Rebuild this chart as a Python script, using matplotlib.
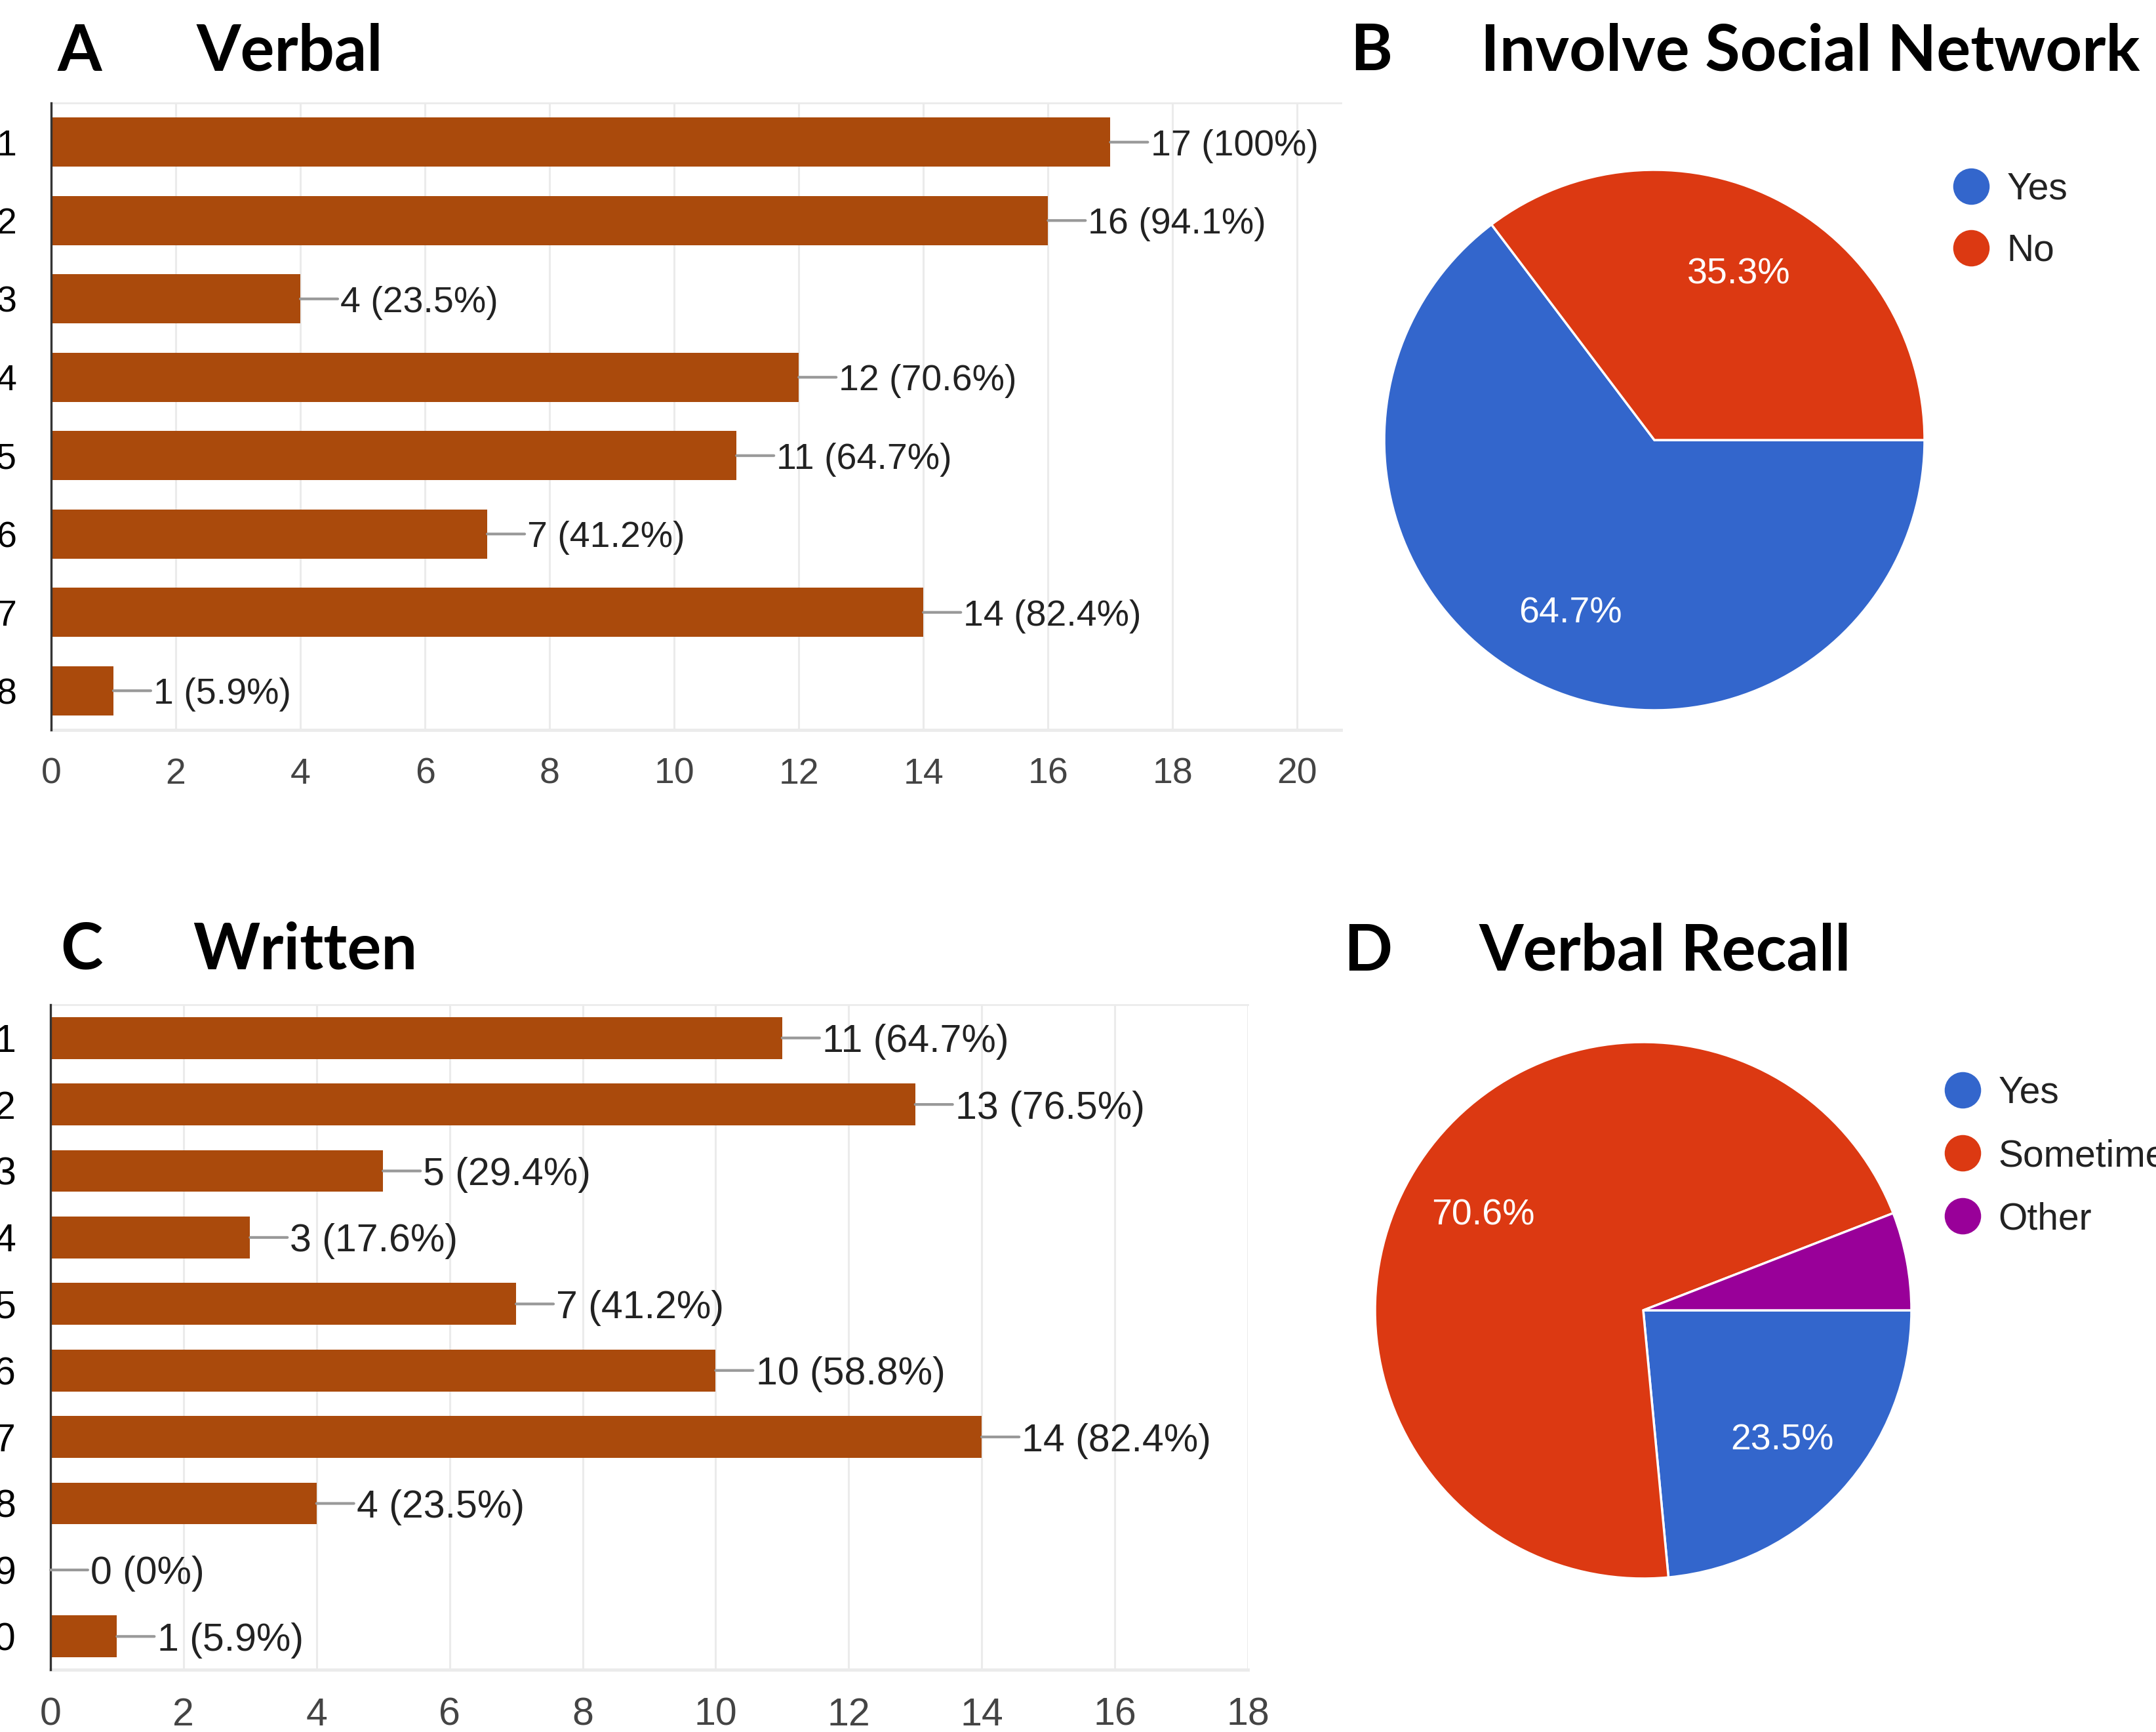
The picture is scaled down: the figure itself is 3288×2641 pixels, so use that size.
import matplotlib
matplotlib.use("Agg")
import matplotlib.pyplot as plt
from matplotlib.lines import Line2D

# ---- data ----
verbal_items = ["1", "2", "3", "4", "5", "6", "7", "8"]
verbal_counts = [17, 16, 4, 12, 11, 7, 14, 1]
verbal_pcts = ["100%", "94.1%", "23.5%", "70.6%", "64.7%", "41.2%", "82.4%", "5.9%"]

written_items = ["1", "2", "3", "4", "5", "6", "7", "8", "9", "10"]
written_counts = [11, 13, 5, 3, 7, 10, 14, 4, 0, 1]
written_pcts = ["64.7%", "76.5%", "29.4%", "17.6%", "41.2%", "58.8%", "82.4%", "23.5%", "0%", "5.9%"]

social_labels = ["Yes", "No"]
social_values = [64.7, 35.3]

recall_labels = ["Yes", "Sometimes", "Other"]
recall_values = [23.5, 70.6, 5.9]

BAR_COLOR = "#AA4A0C"
PIE_COLORS = ["#3366CC", "#DC3912", "#990099"]
W, H = 3288, 2641
SANS = ["Liberation Sans", "DejaVu Sans"]
NARROW = ["Liberation Sans Narrow", "Liberation Sans", "DejaVu Sans"]
TITLE = ["Lato", "DejaVu Sans"]

plt.rcParams["font.family"] = SANS


def px_axes(fig, left, top, right, bottom):
    # place an axes using pixel edges measured from the top-left corner
    return fig.add_axes([left / W, (H - bottom) / H, (right - left) / W, (bottom - top) / H])


def bar_panel(fig, box, items, counts, pcts, xmax, xticks, fs=40):
    ax = px_axes(fig, *box)
    y = list(range(len(items)))
    ax.barh(y, counts, height=0.63, color=BAR_COLOR, zorder=3)
    ax.set_ylim(len(items) - 0.5, -0.5)
    ax.set_xlim(0, xmax)
    ax.set_xticks(xticks)
    ax.set_yticks(y)
    ax.set_yticklabels(items)
    ax.tick_params(axis="y", length=0, pad=38, labelsize=fs, labelcolor="#000000")
    ax.tick_params(axis="x", length=0, pad=30, labelsize=fs, labelcolor="#444444")
    ax.grid(axis="x", color="#EBEBEB", lw=2.2, zorder=0)
    ax.spines["left"].set_color("#333333")
    ax.spines["left"].set_linewidth(2.4)
    ax.spines["left"].set_zorder(4)
    ax.spines["right"].set_visible(False)
    ax.spines["top"].set_color("#EBEBEB")
    ax.spines["top"].set_linewidth(2)
    ax.spines["bottom"].set_color("#EBEBEB")
    ax.spines["bottom"].set_linewidth(3.5)

    for i, (c, p) in enumerate(zip(counts, pcts)):
        # grey connector from the bar end to the label
        ax.annotate("", xy=(c, i), xytext=(41, 0), textcoords="offset points",
                    arrowprops=dict(arrowstyle="-", color="#999999", lw=3,
                                    shrinkA=0, shrinkB=0), zorder=5)
        ax.annotate(f"{c} ({p})", xy=(c, i), xytext=(44, 0), textcoords="offset points",
                    ha="left", va="center_baseline", fontsize=fs, color="#222222",
                    zorder=5)
    return ax


def pie_panel(fig, cx, cy, r, values, colors):
    s = 2.2 * r
    ax = fig.add_axes([(cx - s / 2) / W, (H - cy - s / 2) / H, s / W, s / H])
    wedges, texts, autotexts = ax.pie(
        values, colors=colors, startangle=0, counterclock=False,
        autopct=lambda v: f"{v:.1f}%" if v > 10 else "", pctdistance=0.70,
        wedgeprops=dict(edgecolor="white", linewidth=2.5),
        textprops=dict(color="white", fontsize=40, family=NARROW))
    for t in autotexts:
        t.set_va("center_baseline")
    ax.set_xlim(-1.1, 1.1)
    ax.set_ylim(-1.1, 1.1)
    ax.set_aspect("equal")
    return ax


def pie_legend(fig, labels, colors, x, y, spacing):
    handles = [Line2D([], [], marker="o", ls="", markersize=40, color=c, markeredgewidth=0)
               for c in colors]
    fig.legend(handles, labels, loc="upper left", bbox_to_anchor=(x / W, 1 - y / H),
               frameon=False, fontsize=41, labelcolor="#222222", handlelength=1.0,
               handletextpad=0.45, labelspacing=spacing, borderpad=0, borderaxespad=0)


if __name__ == "__main__":
    fig = plt.figure(figsize=(W / 100, H / 100), dpi=100)

    bar_panel(fig, (78, 157, 2045, 1113), verbal_items, verbal_counts, verbal_pcts,
              20.7, range(0, 21, 2), fs=40)
    bar_panel(fig, (77, 1532, 1903, 2546), written_items, written_counts, written_pcts,
              18, range(0, 19, 2), fs=42.5)

    pie_panel(fig, 2523, 671, 412, social_values, PIE_COLORS[:2])
    pie_panel(fig, 2506, 1998, 409, recall_values, PIE_COLORS)
    pie_legend(fig, social_labels, PIE_COLORS[:2], 2978, 262, 0.70)
    pie_legend(fig, recall_labels, PIE_COLORS, 2965, 1640, 0.74)

    # panel letters and titles
    tkw = dict(fontsize=70, fontweight="bold", family=TITLE, va="baseline", ha="left")
    fig.text(88 / W, 1 - 108 / H, "A", **tkw)
    fig.text(300 / W, 1 - 108 / H, "Verbal", **tkw)
    fig.text(2059 / W, 1 - 107 / H, "B", **tkw)
    fig.text(2258 / W, 1 - 107 / H, "Involve Social Network", **tkw)
    fig.text(92 / W, 1 - 1478 / H, "C", **tkw)
    fig.text(294 / W, 1 - 1478 / H, "Written", **tkw)
    fig.text(2049 / W, 1 - 1480 / H, "D", **tkw)
    fig.text(2256 / W, 1 - 1480 / H, "Verbal Recall", **tkw)

    fig.savefig("out.png", dpi=100)
